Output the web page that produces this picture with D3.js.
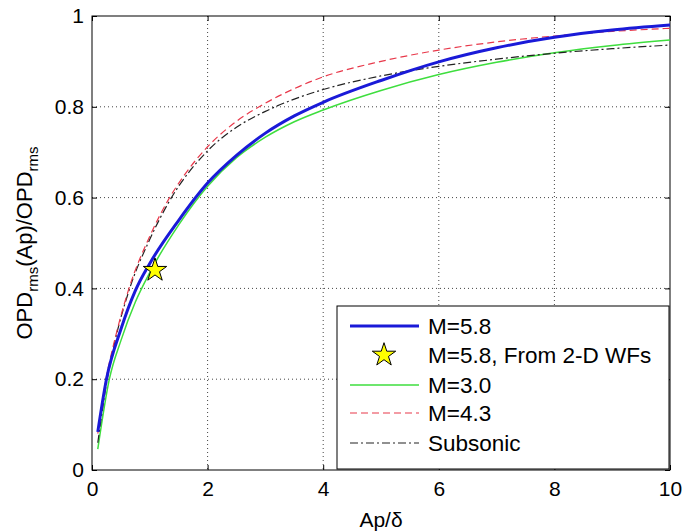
<!DOCTYPE html>
<html>
<head>
<meta charset="utf-8">
<script src="https://d3js.org/d3.v7.min.js"></script>
<style>
body { margin: 0; background: #fff; }
text { font-family: "Liberation Sans", Arial, sans-serif; fill: #000; }
.grid line { stroke: #444; stroke-width: 1; stroke-dasharray: 1,3; }
</style>
</head>
<body>
<script>
// data
var xBlue  = [0.1, 0.25, 0.5, 0.75, 1.0, 1.5, 2.0, 2.5, 3.0, 3.5, 4.0, 5.0, 6.0, 7.0, 8.0, 9.0, 10.0];
var yBlue  = [0.084, 0.20, 0.31, 0.395, 0.455, 0.55, 0.632, 0.693, 0.742, 0.78, 0.81, 0.858, 0.899, 0.93, 0.953, 0.969, 0.98];
var xGreen = [0.1, 0.3, 0.5, 0.75, 1.0, 1.5, 2.0, 2.5, 3.0, 3.5, 4.0, 5.0, 6.0, 7.0, 8.0, 9.0, 10.0];
var yGreen = [0.046, 0.20, 0.285, 0.37, 0.435, 0.54, 0.625, 0.688, 0.733, 0.767, 0.793, 0.836, 0.871, 0.898, 0.919, 0.935, 0.947];
var xRed   = [0.1, 0.25, 0.4, 0.64, 1.0, 1.32, 1.6, 2.0, 2.5, 3.0, 3.5, 4.0, 5.0, 6.0, 7.0, 8.0, 9.0, 10.0];
var yRed   = [0.08, 0.205, 0.29, 0.40, 0.515, 0.595, 0.65, 0.712, 0.768, 0.808, 0.84, 0.866, 0.90, 0.925, 0.943, 0.956, 0.966, 0.973];
var xSub   = [0.1, 0.25, 0.4, 0.64, 1.0, 1.32, 2.0, 2.5, 3.0, 3.5, 4.0, 5.0, 6.0, 7.0, 8.0, 9.0, 10.0];
var ySub   = [0.06, 0.19, 0.285, 0.395, 0.508, 0.588, 0.703, 0.755, 0.79, 0.817, 0.838, 0.868, 0.889, 0.905, 0.918, 0.928, 0.936];
var starPt = [1.09, 0.44];

var xTicks = [0, 2, 4, 6, 8, 10];
var yTicks = [0, 0.2, 0.4, 0.6, 0.8, 1];
var legendLabels = ["M=5.8", "M=5.8, From 2-D WFs", "M=3.0", "M=4.3", "Subsonic"];

var W = 683, H = 532;
var margin = {top: 16, right: 13, bottom: 62, left: 92};
var width = W - margin.left - margin.right,
    height = H - margin.top - margin.bottom;

var svg = d3.select("body").append("svg")
    .attr("width", W).attr("height", H);
var g = svg.append("g")
    .attr("transform", "translate(" + margin.left + "," + margin.top + ")");

var x = d3.scaleLinear().domain([0, 10]).range([0, width]);
var y = d3.scaleLinear().domain([0, 1]).range([height, 0]);

// grid
var grid = g.append("g").attr("class", "grid");
grid.selectAll("line.v").data(xTicks.slice(1, -1)).enter().append("line")
    .attr("x1", d => x(d)).attr("x2", d => x(d))
    .attr("y1", 0).attr("y2", height);
grid.selectAll("line.h").data(yTicks.slice(1, -1)).enter().append("line")
    .attr("x1", 0).attr("x2", width)
    .attr("y1", d => y(d)).attr("y2", d => y(d));

// axes, ticks pointing inwards like matlab
function styleAxis(sel) {
  sel.select(".domain").remove();
  sel.selectAll("text").style("font-size", "21px");
  sel.selectAll("line").attr("stroke", "#000");
}
g.append("g").attr("transform", "translate(0," + height + ")")
  .call(d3.axisBottom(x).tickValues(xTicks).tickSizeInner(-5).tickPadding(11).tickFormat(d3.format("d")))
  .call(styleAxis);
g.append("g")
  .call(d3.axisLeft(y).tickValues(yTicks).tickSizeInner(-5).tickPadding(8).tickFormat(d => d === 0 || d === 1 ? d : d.toFixed(1)))
  .call(styleAxis);
g.append("g")
  .call(d3.axisTop(x).tickValues(xTicks).tickSizeInner(-5).tickFormat(""))
  .call(styleAxis);
g.append("g").attr("transform", "translate(" + width + ",0)")
  .call(d3.axisRight(y).tickValues(yTicks).tickSizeInner(-5).tickFormat(""))
  .call(styleAxis);

g.append("rect").attr("width", width).attr("height", height)
  .attr("fill", "none").attr("stroke", "#000").attr("stroke-width", 1);

// curves
var series = [
  {xs: xGreen, ys: yGreen, color: "#3ede3e", w: 1.5, dash: null},
  {xs: xSub,   ys: ySub,   color: "#222",    w: 1.2, dash: "8,3,2,3"},
  {xs: xRed,   ys: yRed,   color: "#e8384a", w: 1.2, dash: "7,4"},
  {xs: xBlue,  ys: yBlue,  color: "#1a1ad8", w: 3,   dash: null}
];
var line = d3.line().x(d => x(d[0])).y(d => y(d[1])).curve(d3.curveMonotoneX);
series.forEach(function(s) {
  g.append("path")
    .datum(s.xs.map((v, i) => [v, s.ys[i]]))
    .attr("d", line)
    .attr("fill", "none")
    .attr("stroke", s.color)
    .attr("stroke-width", s.w)
    .attr("stroke-dasharray", s.dash);
});

var star = d3.symbol().type(d3.symbolStar).size(170);
g.append("path").attr("d", star())
  .attr("transform", "translate(" + x(starPt[0]) + "," + y(starPt[1]) + ")")
  .attr("fill", "#ffff00").attr("stroke", "#000").attr("stroke-width", 1);

// axis labels
svg.append("text")
  .attr("x", margin.left + width / 2).attr("y", 527)
  .attr("text-anchor", "middle").style("font-size", "21px")
  .text("Ap/\u03b4");

var yl = svg.append("text")
  .attr("transform", "translate(32," + (margin.top + height / 2) + ") rotate(-90)")
  .attr("text-anchor", "middle").style("font-size", "22px");
yl.append("tspan").text("OPD");
yl.append("tspan").attr("dy", 6).style("font-size", "15px").text("rms");
yl.append("tspan").attr("dy", -6).text("(Ap)/OPD");
yl.append("tspan").attr("dy", 6).style("font-size", "15px").text("rms");

// legend
var lg = svg.append("g").attr("transform", "translate(337,306)");
lg.append("rect").attr("width", 332).attr("height", 163)
  .attr("fill", "#fff").attr("stroke", "#000").attr("stroke-width", 1);
var rowY = [20, 49, 79, 107, 137];
var legendStyle = [
  {color: "#1a1ad8", w: 3, dash: null},
  null,
  {color: "#3ede3e", w: 1.5, dash: null},
  {color: "#e8384a", w: 1.2, dash: "7,4"},
  {color: "#222", w: 1.2, dash: "8,3,2,3"}
];
legendLabels.forEach(function(t, i) {
  var st = legendStyle[i];
  if (st) {
    lg.append("line").attr("x1", 13).attr("x2", 82)
      .attr("y1", rowY[i]).attr("y2", rowY[i])
      .attr("stroke", st.color).attr("stroke-width", st.w)
      .attr("stroke-dasharray", st.dash);
  } else {
    lg.append("path").attr("d", star())
      .attr("transform", "translate(47," + rowY[i] + ")")
      .attr("fill", "#ffff00").attr("stroke", "#000").attr("stroke-width", 1);
  }
  lg.append("text").attr("x", 91).attr("y", rowY[i]).attr("dy", "0.35em")
    .style("font-size", "22.5px").text(t);
});
</script>
</body>
</html>
